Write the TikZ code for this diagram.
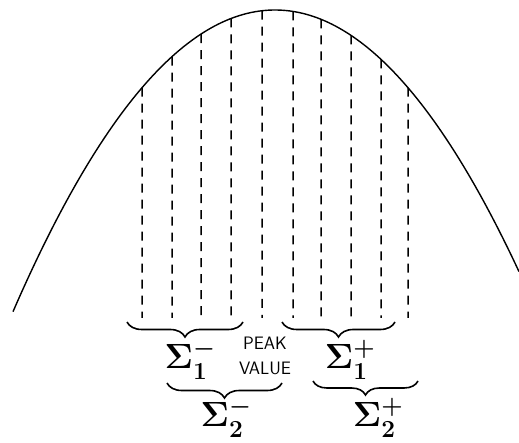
\documentclass[tikz,border=0pt]{standalone}
\usepackage{fix-cm}
\usepackage{fontspec}
\usetikzlibrary{intersections,decorations.pathreplacing}
\begin{document}
\begin{tikzpicture}[x=1pt,y=-1pt,
  curveline/.style={line width=1.4pt},
  slice/.style={line width=1.5pt,dash pattern=on 9pt off 7pt},
  bracestyle/.style={line width=1.6pt,decorate,decoration={brace,mirror,amplitude=#1}},
  sigmalabel/.style={inner sep=0pt,font=\fontsize{35}{40}\selectfont\boldmath},
  peaklabel/.style={inner sep=0pt,align=center,font=\sffamily\fontsize{18}{25}\selectfont}]
\useasboundingbox (0,0) rectangle (519,443);
\draw[curveline,name path=curve] plot[domain=13:519,samples=120,smooth] (\x,{10+0.0044*(\x-275)*(\x-275)});
\foreach \x [count=\i] in {142,172,201,231,262,293,321,351,381,408}{
  \path[name path=v\i] (\x,0) -- (\x,330);
  \path[name intersections={of=curve and v\i,by={top\i}}];
  \coordinate (bot\i) at (\x,318);
  \draw[slice] (top\i) -- (bot\i);
}
\coordinate (b1l) at (127,322); \coordinate (b1r) at (243,322);
\coordinate (b2l) at (282,322); \coordinate (b2r) at (395,322);
\coordinate (b3l) at (167,383); \coordinate (b3r) at (282,383);
\coordinate (b4l) at (313,381); \coordinate (b4r) at (418,381);
\draw[bracestyle=15pt] (b1l) -- (b1r);
\draw[bracestyle=15pt] (b2l) -- (b2r);
\draw[bracestyle=15pt] (b3l) -- (b3r);
\draw[bracestyle=14pt] (b4l) -- (b4r);
\node[sigmalabel] (s1m) at (190,360) {$\Sigma_1^-$};
\node[sigmalabel] (s1p) at (350,360) {$\Sigma_1^+$};
\node[sigmalabel] (s2m) at (226,418) {$\Sigma_2^-$};
\node[sigmalabel] (s2p) at (378,418) {$\Sigma_2^+$};
\node[peaklabel] (peak) at (265,356) {PEAK\\VALUE};
\end{tikzpicture}
\end{document}
